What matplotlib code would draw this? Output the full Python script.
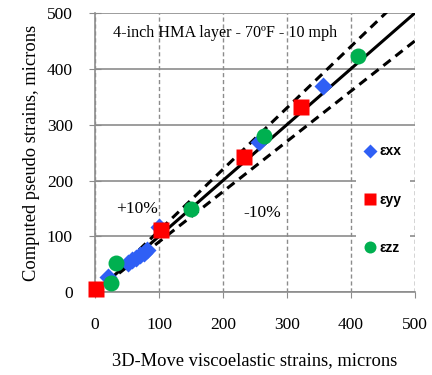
import matplotlib
matplotlib.use('Agg')
import matplotlib.pyplot as plt
import numpy as np

# data
exx_x = [20, 52, 58, 64, 70, 76, 81, 100, 256, 356]
exx_y = [28, 52, 57, 61, 66, 71, 75, 117, 269, 369]
eyy_x = [2, 103, 233, 322]
eyy_y = [5, 111, 242, 332]
ezz_x = [25, 33, 150, 264, 411]
ezz_y = [16, 52, 149, 280, 423]
ticks = [0, 100, 200, 300, 400, 500]

plt.rcParams['font.family'] = 'Liberation Serif'
fig = plt.figure(figsize=(4.32, 3.75), dpi=100)
ax = fig.add_axes([0.22, 0.221, 0.74, 0.744])

line = np.array([0, 500])
ax.plot(line, line, color='black', lw=2.2, zorder=3)
ax.plot(line, line * 1.1, color='black', lw=2.2, ls=(0, (3, 2)), zorder=3)
ax.plot(line, line * 0.9, color='black', lw=2.2, ls=(0, (3, 2)), zorder=3)

ax.plot(exx_x, exx_y, 'D', color='#2f5ff5', ms=9, mec='none', label='εxx', zorder=4, clip_on=False)
ax.plot(eyy_x, eyy_y, 's', color='#ff0000', ms=11.5, mec='none', label='εyy', zorder=4, clip_on=False)
ax.plot(ezz_x, ezz_y, 'o', color='#00b050', ms=11.5, mec='none', label='εzz', zorder=4, clip_on=False)

ax.set_xlim(0, 500)
ax.set_ylim(0, 500)
ax.set_xticks(ticks)
ax.set_yticks(ticks)
ax.tick_params(axis='x', direction='out', length=4, color='#8c8c8c', labelsize=12.5, pad=14)
ax.tick_params(axis='y', direction='inout', length=8, color='#8c8c8c', labelsize=12.5, pad=12)
ax.yaxis.grid(True, color='#8c8c8c', lw=1.2)
ax.xaxis.grid(True, color='#8c8c8c', lw=1, ls=(0, (3, 2)))
ax.set_axisbelow(True)
for s in ['top', 'right']:
    ax.spines[s].set_visible(False)
ax.axvline(500, color='#8c8c8c', lw=1, ls=(0, (3, 2)))
ax.spines['left'].set_color('#8c8c8c')
ax.spines['bottom'].set_color('#8c8c8c')
ax.spines['left'].set_linewidth(1.2)
ax.spines['bottom'].set_linewidth(1.2)

ax.set_xlabel('3D-Move viscoelastic strains, microns', fontsize=13.3, labelpad=14)
ax.set_ylabel('Computed pseudo strains, microns', fontsize=13.3, labelpad=5)

ax.text(203, 464, '4-inch HMA layer - 70ºF - 10 mph', fontsize=11.6, ha='center', va='center')
ax.text(66, 149, '+10%', fontsize=12.5, ha='center', va='center')
ax.text(262, 141, '-10%', fontsize=12.5, ha='center', va='center')

leg = ax.legend(loc='upper left', bbox_to_anchor=(0.816, 0.559), frameon=True,
                facecolor='white', edgecolor='none', framealpha=1, fancybox=False,
                prop={'family': 'Liberation Sans', 'weight': 'bold', 'size': 10},
                labelspacing=2.45, handlelength=0.8, handletextpad=0.3, markerscale=0.75,
                borderpad=0.6, borderaxespad=0)

fig.savefig('out.png', dpi=100)
